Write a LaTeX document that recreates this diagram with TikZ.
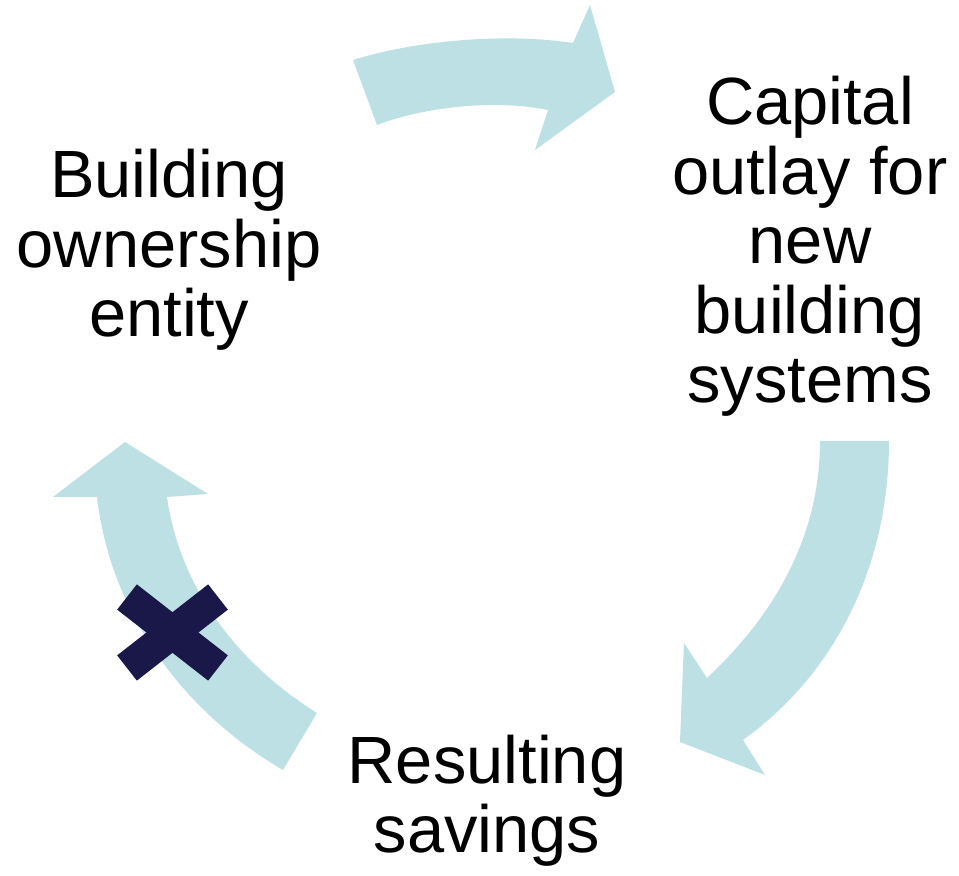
\documentclass[tikz,border=0pt]{standalone}
\usepackage{fontspec}
\setmainfont{Liberation Sans}
\definecolor{cyclefill}{RGB}{188,224,228}
\definecolor{crossfill}{RGB}{26,24,72}
\begin{document}
\begin{tikzpicture}[x=0.01cm,y=-0.01cm,
    txt/.style={align=center,anchor=base,inner sep=0pt,
      font=\fontsize{19}{19.8}\selectfont},
    curvedarrow/.style={fill=cyclefill,draw=none}]
  \useasboundingbox (0,0) rectangle (959,876);
  % base anchor sits on the last line
  \draw
    (169,337) node[txt] (owner){Building\\ownership\\entity}
    (810,403) node[txt] (outlay){Capital\\outlay for\\new\\building\\systems}
    (487,853) node[txt] (savings){Resulting\\savings};
  % top arrow
  \fill[curvedarrow] (353,60) .. controls (410,42) and (500,32) .. (573,43)
    -- (590,5) -- (615,92) -- (535,150) -- (548,110)
    .. controls (500,100) and (430,105) .. (377,125) -- cycle;
  % right arrow
  \fill[curvedarrow] (889,441) .. controls (889,560) and (840,670) .. (743,740)
    -- (765,775) -- (680,742) -- (684,643) -- (707,678)
    .. controls (785,605) and (820,525) .. (820,441) -- cycle;
  % left arrow
  \fill[curvedarrow] (283,770) .. controls (180,710) and (110,610) .. (97,497)
    -- (53,497) -- (125,442) -- (208,494) -- (167,497)
    .. controls (180,590) and (240,665) .. (317,713) -- cycle;
  % cross on left arrow
  \begin{scope}[crossfill,line width=0.32cm]
    \draw (127,597) -- (218,668);
    \draw (127,668) -- (218,597);
  \end{scope}
\end{tikzpicture}
\end{document}
